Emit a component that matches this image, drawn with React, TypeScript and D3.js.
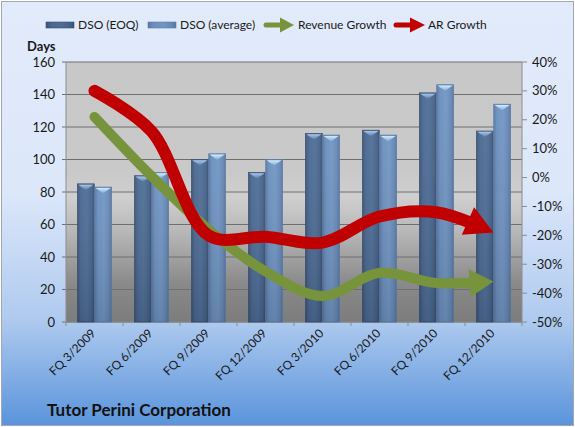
import { useEffect, useRef, useState } from "react";
import * as d3 from "d3";

const categories = ["FQ 3/2009", "FQ 6/2009", "FQ 9/2009", "FQ 12/2009", "FQ 3/2010", "FQ 6/2010", "FQ 9/2010", "FQ 12/2010"];
const dsoEoq = [85, 90, 100, 92, 116, 118, 141, 117.5];
const dsoAvg = [83, 92, 103.5, 100, 115, 115, 146, 134];
const revenueGrowth = [21, 0.5, -18, -32.5, -41, -33, -36.5, -36];
const arGrowth = [30, 16, -20, -20.5, -22.5, -13.5, -12, -19];
const leftTicks = [0, 20, 40, 60, 80, 100, 120, 140, 160];
const rightTicks = [-50, -40, -30, -20, -10, 0, 10, 20, 30, 40];

const W = 575;
const H = 427;
const plot = { left: 66, right: 522, top: 62, bottom: 322 };
const FONT = "Lato, 'Open Sans', sans-serif";

const x = d3.scaleBand<string>().domain(categories).range([plot.left, plot.right]).paddingInner(0.4035).paddingOuter(0.2018);
const xSub = d3.scaleBand<string>().domain(["eoq", "avg"]).range([0, x.bandwidth()]).paddingInner(0.03);
const yLeft = d3.scaleLinear().domain([0, 160]).range([plot.bottom, plot.top]);
const yRight = d3.scaleLinear().domain([-50, 40]).range([plot.bottom, plot.top]);

const cx = (c: string) => (x(c) as number) + x.bandwidth() / 2;
const catStart = (c: string) => (x(c) as number) - (x.step() - x.bandwidth()) / 2;

const smooth = d3.line<number>()
  .x((_, i) => cx(categories[i]))
  .y(d => yRight(d))
  .curve(d3.curveCatmullRom.alpha(0.5));

// thick line ending in a filled arrow head at the last point
function ArrowLine({ values, color, width, headLen, headHalf }: { values: number[]; color: string; width: number; headLen: number; headHalf: number }) {
  const pathRef = useRef<SVGPathElement>(null);
  const [head, setHead] = useState<string>("");
  const [dash, setDash] = useState<string | undefined>(undefined);
  const d = smooth(values) || "";

  useEffect(() => {
    const p = pathRef.current;
    if (!p) return;
    const L = p.getTotalLength();
    const tip = p.getPointAtLength(L);
    const back = p.getPointAtLength(L - 8);
    const ang = Math.atan2(tip.y - back.y, tip.x - back.x);
    const bx = tip.x - headLen * Math.cos(ang);
    const by = tip.y - headLen * Math.sin(ang);
    const nx = -Math.sin(ang);
    const ny = Math.cos(ang);
    setHead(`${tip.x},${tip.y} ${bx + nx * headHalf},${by + ny * headHalf} ${bx - nx * headHalf},${by - ny * headHalf}`);
    setDash(`${L - headLen + 2} ${L}`);
  }, [d, headLen, headHalf]);

  return (
    <g>
      <path ref={pathRef} d={d} fill="none" stroke={color} strokeWidth={width} strokeLinecap="round" strokeDasharray={dash} />
      {head && <polygon points={head} fill={color} />}
    </g>
  );
}

function Bar({ x0, w, v, kind }: { x0: number; w: number; v: number; kind: "eoq" | "avg" }) {
  const y0 = yLeft(v);
  const h = yLeft(0) - y0;
  return (
    <g>
      <rect x={x0} y={y0} width={w} height={h} fill={`url(#bar-${kind})`} stroke={kind === "eoq" ? "#3a5070" : "#5a7aa6"} strokeWidth={0.8} />
      <rect x={x0} y={y0} width={w} height={h} fill="url(#bar-shade)" />
      <polygon points={`${x0 + 0.8},${y0 + 0.8} ${x0 + w - 0.8},${y0 + 0.8} ${x0 + w / 2},${y0 + 6}`} fill={`url(#cap-${kind})`} />
    </g>
  );
}

export default function App() {
  const legendY = 25;
  return (
    <svg width={W} height={H} style={{ position: "absolute", left: 0, top: 0, fontFamily: FONT }}>
      <defs>
        <linearGradient id="bg" x1="0" y1="0" x2="0" y2="1">
          <stop offset="0" stopColor="#e2ebfb" />
          <stop offset="0.45" stopColor="#dce7fa" />
          <stop offset="0.75" stopColor="#afcaef" />
          <stop offset="1" stopColor="#5a94db" />
        </linearGradient>
        <linearGradient id="plotbg" x1="0" y1="0" x2="0" y2="1">
          <stop offset="0" stopColor="#c8c8c8" />
          <stop offset="0.42" stopColor="#c9c9c9" />
          <stop offset="0.52" stopColor="#cfcfcf" />
          <stop offset="0.65" stopColor="#b8b8b8" />
          <stop offset="0.85" stopColor="#8a8a8a" />
          <stop offset="1" stopColor="#7c7c7c" />
        </linearGradient>
        <linearGradient id="bar-eoq" x1="0" y1="0" x2="1" y2="0">
          <stop offset="0" stopColor="#3a5276" />
          <stop offset="0.2" stopColor="#4a6891" />
          <stop offset="0.55" stopColor="#4f6e97" />
          <stop offset="0.85" stopColor="#45628a" />
          <stop offset="1" stopColor="#38506f" />
        </linearGradient>
        <linearGradient id="bar-avg" x1="0" y1="0" x2="1" y2="0">
          <stop offset="0" stopColor="#5878a4" />
          <stop offset="0.2" stopColor="#6b8fbe" />
          <stop offset="0.55" stopColor="#7196c4" />
          <stop offset="0.85" stopColor="#6587b4" />
          <stop offset="1" stopColor="#56749e" />
        </linearGradient>
        <linearGradient id="bar-shade" x1="0" y1="0" x2="0" y2="1">
          <stop offset="0" stopColor="#ffffff" stopOpacity="0.05" />
          <stop offset="1" stopColor="#000000" stopOpacity="0.12" />
        </linearGradient>
        <linearGradient id="cap-eoq" x1="0" y1="0" x2="0" y2="1">
          <stop offset="0" stopColor="#a9c7ea" />
          <stop offset="1" stopColor="#5b7ca6" />
        </linearGradient>
        <linearGradient id="cap-avg" x1="0" y1="0" x2="0" y2="1">
          <stop offset="0" stopColor="#d2ecfd" />
          <stop offset="1" stopColor="#85aad6" />
        </linearGradient>
      </defs>

      <rect x={1.5} y={1.5} width={W - 3} height={H - 3} fill="url(#bg)" stroke="#a3a9b3" strokeWidth={1} />

      {/* plot area */}
      <rect x={plot.left} y={plot.top} width={plot.right - plot.left} height={plot.bottom - plot.top} fill="url(#plotbg)" />
      {leftTicks.map(t => (
        <line key={`g${t}`} x1={plot.left - 4} x2={plot.right} y1={yLeft(t)} y2={yLeft(t)} stroke="#6e6e6e" strokeWidth={1} />
      ))}
      <line x1={plot.left} x2={plot.left} y1={plot.top} y2={plot.bottom} stroke="#8c8c8c" />
      <line x1={plot.right} x2={plot.right} y1={plot.top} y2={plot.bottom} stroke="#8c8c8c" />
      {rightTicks.map(t => (
        <line key={`rt${t}`} x1={plot.right} x2={plot.right + 5} y1={yRight(t)} y2={yRight(t)} stroke="#8c8c8c" />
      ))}
      <line x1={plot.left} x2={plot.right} y1={plot.bottom} y2={plot.bottom} stroke="#8c8c8c" />
      {categories.map((c, i) => (
        <line key={`xt${i}`} x1={catStart(c)} x2={catStart(c)} y1={plot.bottom} y2={plot.bottom + 4} stroke="#8c8c8c" />
      ))}
      <line x1={plot.right} x2={plot.right} y1={plot.bottom} y2={plot.bottom + 4} stroke="#8c8c8c" />

      {/* bars */}
      {categories.map((c, i) => (
        <g key={`b${i}`}>
          <Bar x0={x(c)! + xSub("eoq")!} w={xSub.bandwidth()} v={dsoEoq[i]} kind="eoq" />
          <Bar x0={x(c)! + xSub("avg")!} w={xSub.bandwidth()} v={dsoAvg[i]} kind="avg" />
        </g>
      ))}

      {/* growth arrows */}
      <ArrowLine values={revenueGrowth} color="#77933c" width={10} headLen={24} headHalf={14} />
      <ArrowLine values={arGrowth} color="#c00000" width={12} headLen={28} headHalf={15} />

      {/* axis labels */}
      {leftTicks.map(t => (
        <text key={`l${t}`} x={55} y={yLeft(t)} dy="0.35em" textAnchor="end" fontSize={13} fill="#1a1a1a">{t}</text>
      ))}
      {rightTicks.map(t => (
        <text key={`r${t}`} x={532} y={yRight(t)} dy="0.35em" textAnchor="start" fontSize={13} fill="#1a1a1a">{`${t}%`}</text>
      ))}
      {categories.map(c => (
        <text key={`x${c}`} transform={`translate(${cx(c) + 2},${plot.bottom + 12}) rotate(-45)`} textAnchor="end" fontSize={12} fill="#1a1a1a">{c}</text>
      ))}
      <text x={27} y={51} fontSize={13} fontWeight="bold" fill="#1a1a1a">Days</text>

      {/* legend */}
      <rect x={46} y={legendY - 3} width={28} height={6} fill="url(#bar-eoq)" stroke="#3a5070" strokeWidth={0.6} />
      <text x={78} y={legendY} dy="0.35em" fontSize={12} fill="#1a1a1a">DSO (EOQ)</text>
      <rect x={148} y={legendY - 3} width={28} height={6} fill="url(#bar-avg)" stroke="#5a7aa6" strokeWidth={0.6} />
      <text x={180} y={legendY} dy="0.35em" fontSize={12} fill="#1a1a1a">DSO (average)</text>
      <line x1={266} x2={282} y1={legendY} y2={legendY} stroke="#77933c" strokeWidth={5} strokeLinecap="round" />
      <polygon points={`${294},${legendY} ${280},${legendY - 7.5} ${280},${legendY + 7.5}`} fill="#77933c" />
      <text x={298} y={legendY} dy="0.35em" fontSize={12} fill="#1a1a1a">Revenue Growth</text>
      <line x1={396} x2={412} y1={legendY} y2={legendY} stroke="#c00000" strokeWidth={5} strokeLinecap="round" />
      <polygon points={`${425},${legendY} ${410},${legendY - 7.5} ${410},${legendY + 7.5}`} fill="#c00000" />
      <text x={428} y={legendY} dy="0.35em" fontSize={12} fill="#1a1a1a">AR Growth</text>

      <text x={47} y={416} fontSize={17} fontWeight="bold" fill="#111">Tutor Perini Corporation</text>
    </svg>
  );
}
